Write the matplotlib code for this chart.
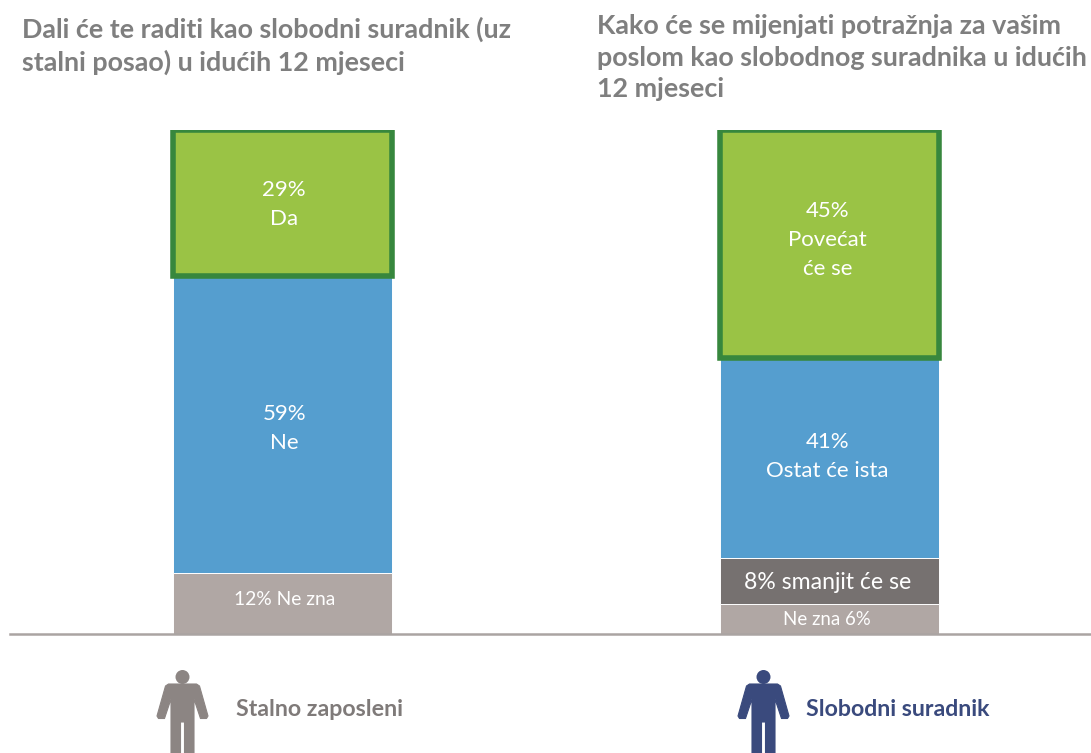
import numpy as np
import matplotlib
matplotlib.use("Agg")
import matplotlib.pyplot as plt
from matplotlib.patches import Polygon, Circle

W = 1091
H = 753

# segment heights (percent of bar), bottom to top
groups = ["Stalno zaposleni", "Slobodni suradnik"]
left_heights = [12.1, 58.9, 29]
right_heights = [5.95, 9.1, 39.7, 45.25]
left_labels = ["12% Ne zna", "59%\nNe", "29%\nDa"]
right_labels = ["Ne zna 6%", "8% smanjit će se", "41%\nOstat će ista", "45%\nPovećat\nće se"]
left_colors = ["#b0a7a4", "#559ecf", "#9ac345"]
right_colors = ["#b0a7a4", "#767170", "#559ecf", "#9ac345"]
left_sizes = [13.9, 16, 16]
right_sizes = [13.4, 16.6, 16, 16]
# small nudges of the labels, pixels upward
left_nudge = [4, -4, -1]
right_nudge = [0, -1, 2, 4]
left_title = "Dali će te raditi kao slobodni suradnik (uz\nstalni posao) u idućih 12 mjeseci"
right_title = "Kako će se mijenjati potražnja za vašim\nposlom kao slobodnog suradnika u idućih\n12 mjeseci"

plt.rcParams["font.family"] = ["Lato", "DejaVu Sans"]

fig = plt.figure(figsize=(W / 100, H / 100), dpi=100)


def fx(px):
    return px / W


def fy(py):
    return 1 - py / H


# axes: baseline at y=634, 100% at y=130, x units = one bar spacing
ax = fig.add_axes([fx(10), fy(634), fx(1081), fy(130) - fy(634)])
ax.set_ylim(0, 100)
ax.set_xlim((10 - 282.5) / 547, (1091 - 282.5) / 547)
for s in ["top", "left", "right"]:
    ax.spines[s].set_visible(False)
ax.spines["bottom"].set_color("#aaa4a2")
ax.spines["bottom"].set_linewidth(1.8)
ax.set_xticks([])
ax.set_yticks([])
ax.patch.set_alpha(0)

bar_w = 219 / 547


def stack(x, heights, labels, colors, sizes, nudge, text_dx):
    bottom = 0
    for i in range(len(heights)):
        top_seg = i == len(heights) - 1
        ax.bar(x, heights[i], bar_w, bottom=bottom, color=colors[i],
               edgecolor="#37873d" if top_seg else "white",
               linewidth=4.0 if top_seg else 0.7,
               zorder=3 if top_seg else 2)
        ax.annotate(labels[i], (x + text_dx, bottom + heights[i] / 2),
                    xytext=(0, nudge[i] * 0.72), textcoords="offset points", color="white",
                    ha="center", va="center", fontsize=sizes[i], linespacing=1.57, zorder=4)
        bottom += heights[i]


stack(0, left_heights, left_labels, left_colors, left_sizes, left_nudge, 0.003)
stack(1, right_heights, right_labels, right_colors, right_sizes, right_nudge, -0.004)

fig.text(fx(22), fy(17), left_title, color="#7f7f7f", fontsize=19.4, fontweight="bold",
         ha="left", va="top", linespacing=1.35)
fig.text(fx(597), fy(14), right_title, color="#7f7f7f", fontsize=19.4, fontweight="bold",
         ha="left", va="top", linespacing=1.38)

# little person icon, offsets in pixels from head centre
body = np.array([
    (-14, 7), (14, 7), (17, 9), (25.5, 39), (24, 41.5), (18, 41.5), (11.5, 22),
    (11.5, 76), (2, 76), (2, 45), (-2, 45), (-2, 76), (-11.5, 76), (-11.5, 22),
    (-18, 41.5), (-24, 41.5), (-25.5, 39), (-17, 9),
])


def person(cx, cy, color):
    pts = [(fx(cx + a), fy(cy + b)) for a, b in body]
    fig.add_artist(Polygon(pts, closed=True, facecolor=color, edgecolor=color, lw=0.8,
                           joinstyle="round", transform=fig.transFigure))
    # head drawn in display units so it stays round
    fig.add_artist(Circle((cx, H - cy), 7, facecolor=color, edgecolor="none", transform=None))


person(182.5, 677, "#8c8583")
person(763.5, 677, "#3a4a7d")

fig.text(fx(236), fy(709), groups[0], color="#7f7a79", fontsize=16.7, fontweight="bold",
         ha="left", va="center")
fig.text(fx(806), fy(709), groups[1], color="#3a4a7d", fontsize=16.7, fontweight="bold",
         ha="left", va="center")

fig.savefig("out.png", dpi=100)
